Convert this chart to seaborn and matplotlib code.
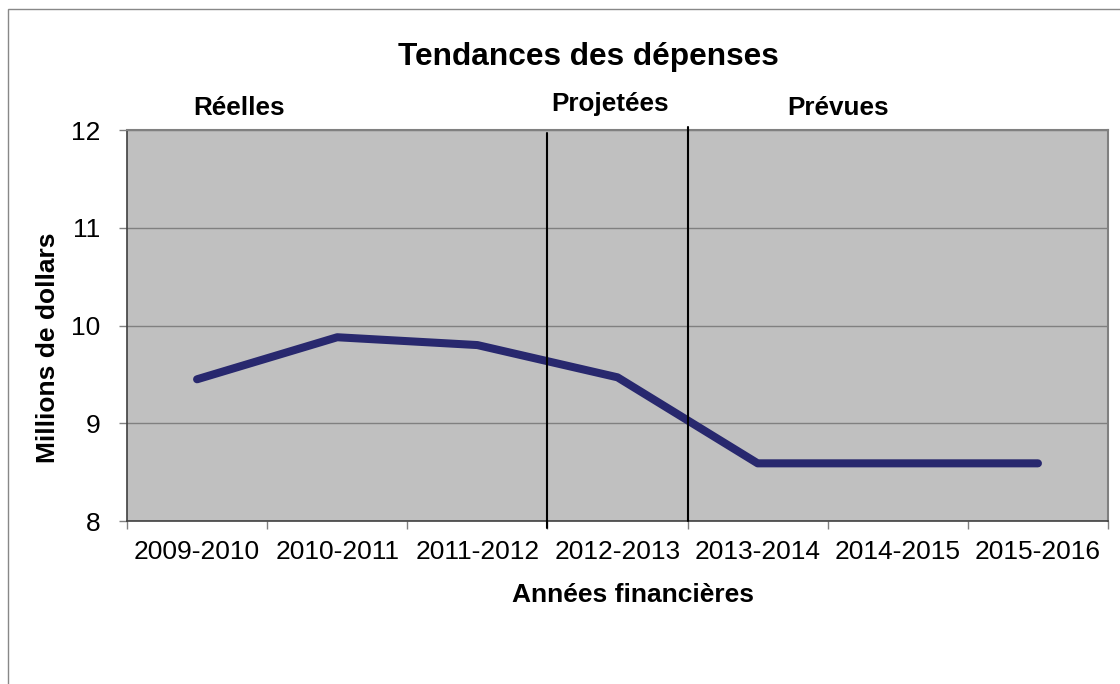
import pandas as pd
import numpy as np
import matplotlib
matplotlib.use('Agg')
import matplotlib.pyplot as plt
import seaborn as sns
from matplotlib.patches import Rectangle

# données
annees = ['2009-2010', '2010-2011', '2011-2012', '2012-2013',
          '2013-2014', '2014-2015', '2015-2016']
depenses = [9.45, 9.88, 9.80, 9.47, 8.59, 8.59, 8.59]
sections = ['Réelles', 'Projetées', 'Prévues']
limites = [2.5, 3.5]  # séparations entre sections (positions de catégories)
yticks = [8, 9, 10, 11, 12]

sns.set_style('white')
plt.rcParams['font.family'] = ['Liberation Sans', 'DejaVu Sans']
plt.rcParams['text.color'] = 'black'
plt.rcParams['axes.labelcolor'] = 'black'
plt.rcParams['xtick.color'] = 'black'
plt.rcParams['ytick.color'] = 'black'

df = pd.DataFrame({'Année': annees, 'Dépenses': depenses})

fig = plt.figure(figsize=(11.2, 6.84), dpi=100)
ax = fig.add_axes([0.1134, 0.2383, 0.8759, 0.5716])
ax.set_facecolor('#C0C0C0')

sns.lineplot(data=df, x='Année', y='Dépenses', ax=ax, color='#28286E',
             linewidth=5.8, solid_capstyle='round', solid_joinstyle='round', zorder=3)

ax.set_xlim(-0.5, len(annees) - 0.5)
ax.set_ylim(yticks[0], yticks[-1])
ax.set_yticks(yticks)
ax.yaxis.grid(True, color='#808080', linewidth=1)
ax.set_axisbelow(True)

# étiquettes au centre, petites marques aux limites des catégories
ax.set_xticks(range(len(annees)))
ax.set_xticklabels(annees)
ax.set_xticks(np.arange(-0.5, len(annees)), minor=True)
ax.tick_params(axis='x', which='major', length=0, pad=14, labelsize=19, labelcolor='black')
ax.tick_params(axis='x', which='minor', length=6, width=1, color='#808080', direction='out')
ax.tick_params(axis='y', length=6, width=1, color='#808080', direction='out', pad=13,
               labelsize=19, labelcolor='black')
ax.tick_params(bottom=True, left=True, which='both')

for s in ['left', 'bottom']:
    ax.spines[s].set_color('#404040')
    ax.spines[s].set_linewidth(1.2)
for s in ['top', 'right']:
    ax.spines[s].set_color('#808080')
    ax.spines[s].set_linewidth(1.5)

# lignes verticales entre sections
ax.axvline(limites[0], ymin=-0.018, ymax=0.992, color='black', linewidth=1.5, clip_on=False, zorder=4)
ax.axvline(limites[1], ymin=0.0, ymax=1.008, color='black', linewidth=1.5, clip_on=False, zorder=4)

ax.set_xlabel('')
ax.set_ylabel('')

# titres de sections
pos_sections = [(0.114, 1.056), (0.492, 1.066), (0.725, 1.056)]
for nom, (px, py) in zip(sections, pos_sections):
    ax.text(px, py, nom, transform=ax.transAxes, ha='center', va='center',
            fontsize=18.8, fontweight='bold', color='black')

fig.text(0.525, 0.9167, 'Tendances des dépenses', ha='center', va='center',
         fontsize=22.8, fontweight='bold', color='black')
fig.text(0.565, 0.130, 'Années financières', ha='center', va='center',
         fontsize=19, fontweight='bold', color='black')
fig.text(0.043, 0.491, 'Millions de dollars', ha='center', va='center',
         rotation=90, fontsize=19, fontweight='bold', color='black')

# cadre du graphique
fig.patches.append(Rectangle((0.007, -0.1), 1.1, 1.087, transform=fig.transFigure,
                             fill=False, edgecolor='#888888', linewidth=1))

fig.savefig('out.png', dpi=100)
